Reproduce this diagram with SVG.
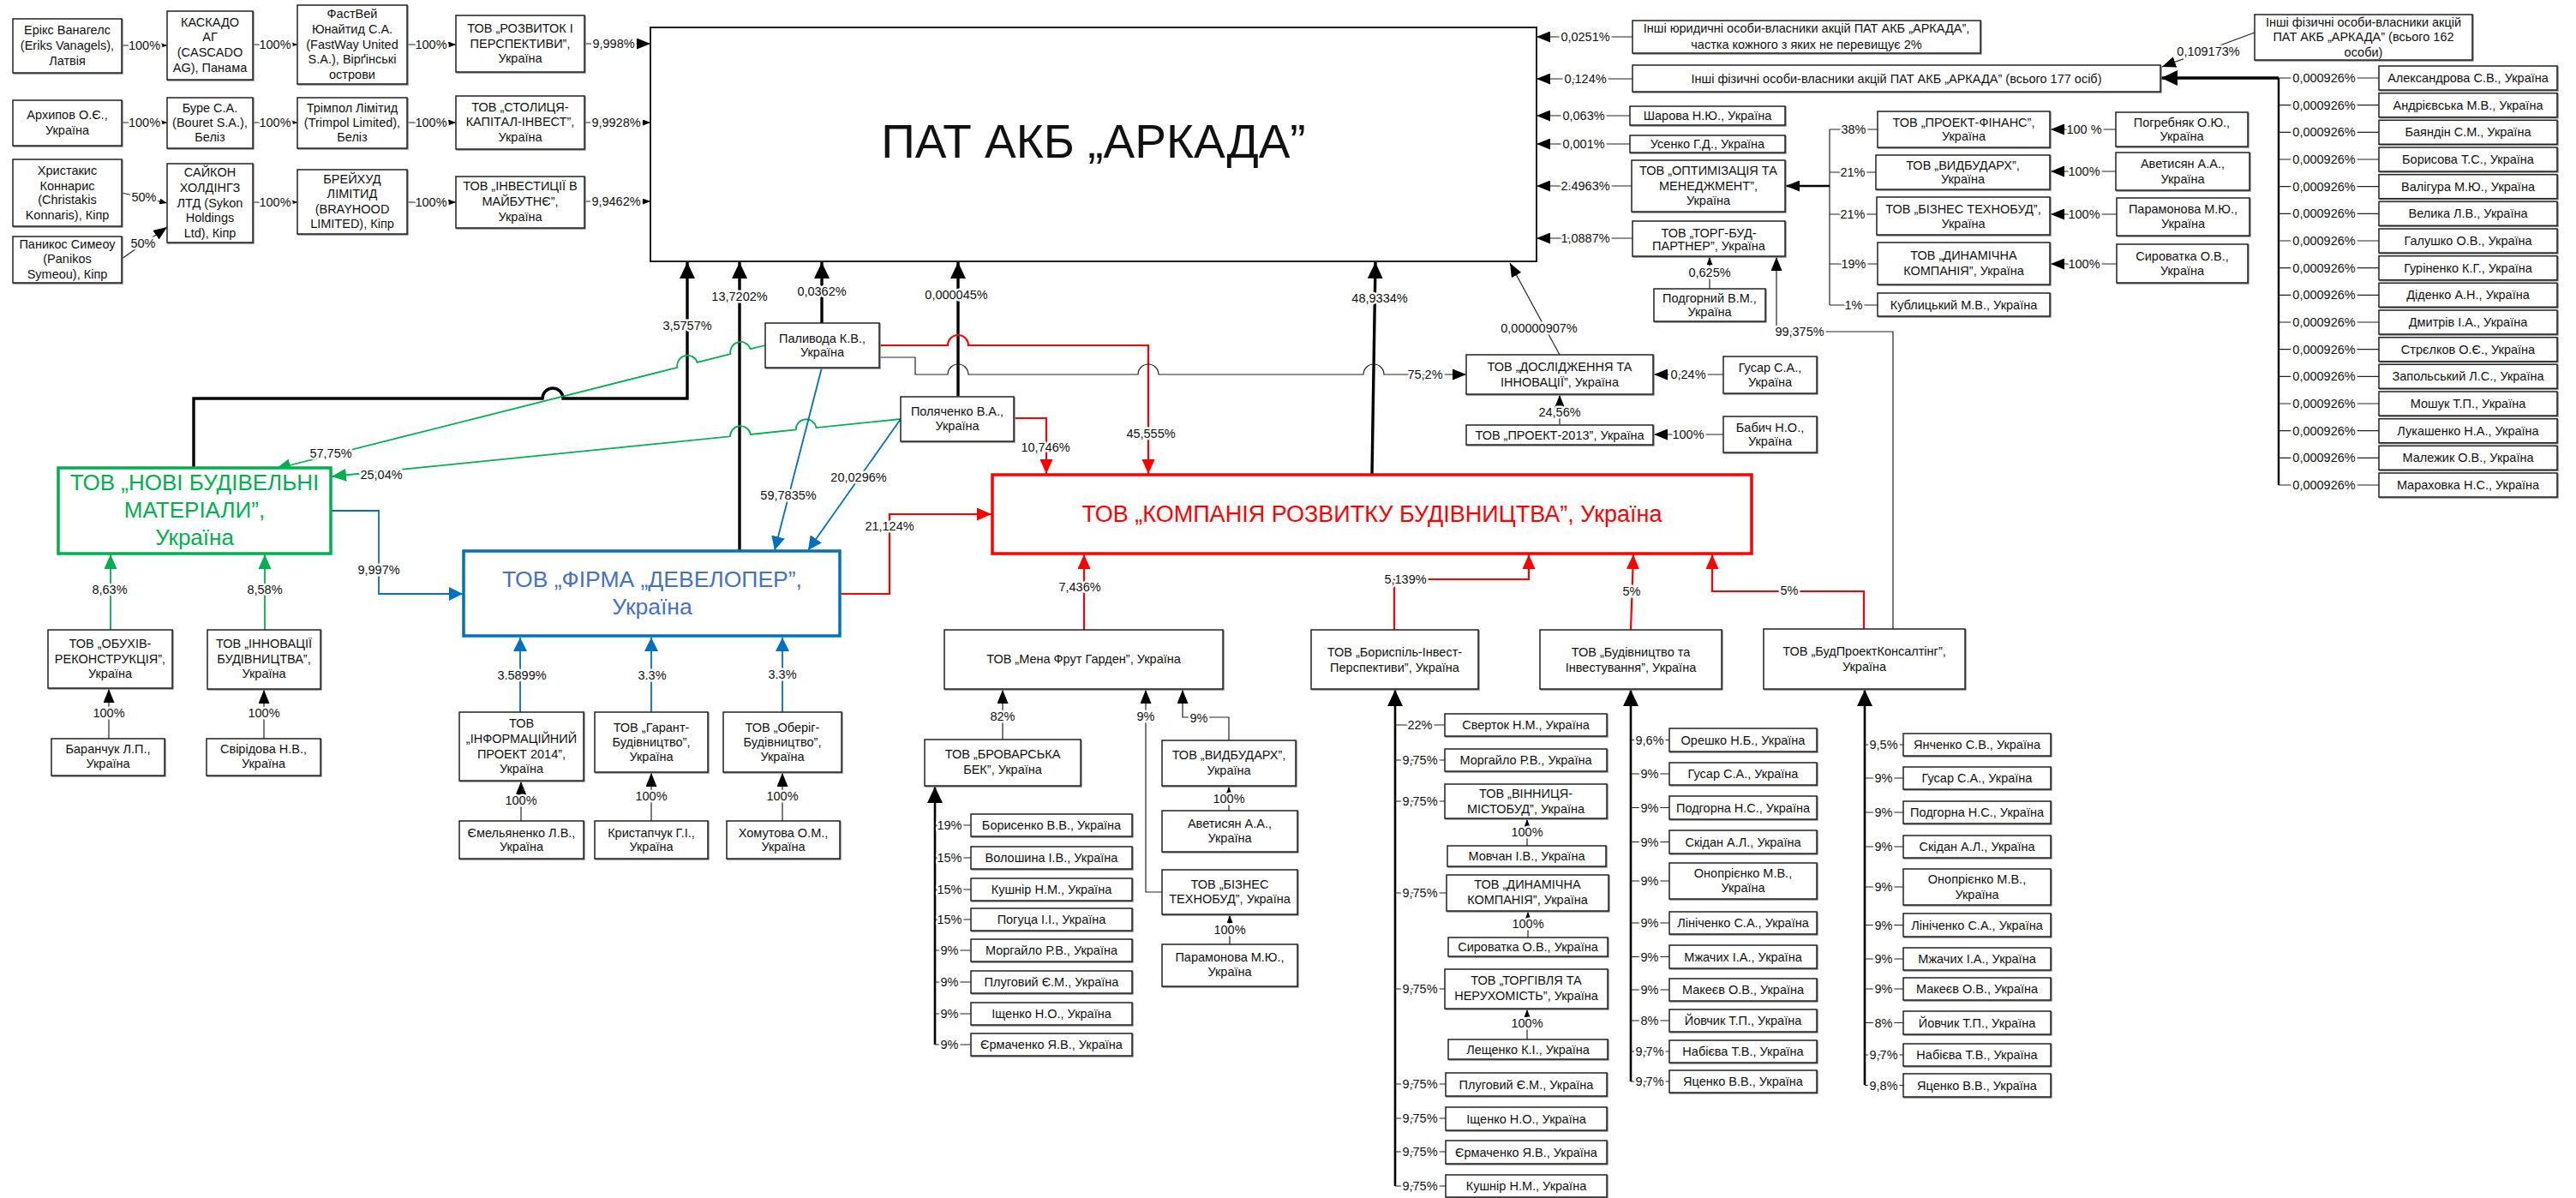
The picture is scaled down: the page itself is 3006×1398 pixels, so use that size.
<svg xmlns="http://www.w3.org/2000/svg" width="3006" height="1398" viewBox="0 0 3006 1398">
<style>
text{font-family:"Liberation Sans",Arial,sans-serif;font-size:14.5px;text-anchor:middle;dominant-baseline:central;fill:#111}
.b{fill:#fff;stroke:#222;stroke-width:1.5;filter:drop-shadow(1px 1.5px 0 #8a8a8a)}
.l{paint-order:stroke;stroke:#fff;stroke-width:5px;stroke-linejoin:round}
.c{fill:none;stroke:#222;stroke-width:1.2}
.k{fill:none;stroke:#000;stroke-width:3.4}
.g{fill:none;stroke:#00b050;stroke-width:1.8}
.u{fill:none;stroke:#0070c0;stroke-width:1.8}
.r{fill:none;stroke:#ff0000;stroke-width:2.2}
.big{font-size:26px}
</style>
<defs>
<marker id="ak" viewBox="0 0 10 10" refX="10" refY="5" markerWidth="19" markerHeight="18" markerUnits="userSpaceOnUse" orient="auto" preserveAspectRatio="none"><path d="M0,0L10,5L0,10z" fill="#000"/></marker>
<marker id="am" viewBox="0 0 10 10" refX="10" refY="5" markerWidth="16" markerHeight="13" markerUnits="userSpaceOnUse" orient="auto" preserveAspectRatio="none"><path d="M0,0L10,5L0,10z" fill="#000"/></marker>
<marker id="as" viewBox="0 0 10 10" refX="10" refY="5" markerWidth="9" markerHeight="7" markerUnits="userSpaceOnUse" orient="auto" preserveAspectRatio="none"><path d="M0,0L10,5L0,10z" fill="#000"/></marker>
<marker id="ag" viewBox="0 0 10 10" refX="10" refY="5" markerWidth="17" markerHeight="15" markerUnits="userSpaceOnUse" orient="auto" preserveAspectRatio="none"><path d="M0,0L10,5L0,10z" fill="#00b050"/></marker>
<marker id="ab" viewBox="0 0 10 10" refX="10" refY="5" markerWidth="16" markerHeight="16" markerUnits="userSpaceOnUse" orient="auto" preserveAspectRatio="none"><path d="M0,0L10,5L0,10z" fill="#0070c0"/></marker>
<marker id="ar" viewBox="0 0 10 10" refX="10" refY="5" markerWidth="17" markerHeight="15" markerUnits="userSpaceOnUse" orient="auto" preserveAspectRatio="none"><path d="M0,0L10,5L0,10z" fill="#ff0000"/></marker>
</defs>
<rect width="3006" height="1398" fill="#fff"/>

<g id="connectors">
<path class="c" d="M142 53H195" marker-end="url(#as)"/>
<path class="c" d="M295 52H347" marker-end="url(#as)"/>
<path class="c" d="M475 52H532" marker-end="url(#as)"/>
<path class="c" d="M682 51H759" marker-end="url(#am)"/>
<path class="c" d="M142 143H195" marker-end="url(#as)"/>
<path class="c" d="M295 143H347" marker-end="url(#as)"/>
<path class="c" d="M475 143H532" marker-end="url(#as)"/>
<path class="c" d="M682 143H759" marker-end="url(#as)"/>
<path class="c" d="M142 225L195 237" marker-end="url(#as)"/>
<path class="c" d="M142 302L195 265" marker-end="url(#am)"/>
<path class="c" d="M295 236H347" marker-end="url(#as)"/>
<path class="c" d="M475 236H532" marker-end="url(#as)"/>
<path class="c" d="M682 235H759" marker-end="url(#as)"/>
<path class="c" d="M1905 43H1793" marker-end="url(#am)"/>
<path class="c" d="M1905 92H1793" marker-end="url(#am)"/>
<path class="c" d="M1902 135H1793" marker-end="url(#am)"/>
<path class="c" d="M1902 168H1793" marker-end="url(#am)"/>
<path class="c" d="M1904 217H1793" marker-end="url(#am)"/>
<path class="c" d="M1905 278H1793" marker-end="url(#am)"/>
<path class="c" d="M2631 38L2523 78" marker-end="url(#am)"/>
<path class="k" d="M2659 91H2522" marker-end="url(#ak)"/>
<path class="k" d="M2659 91V566" style="stroke-width:2.4"/>
<path class="c" d="M2659 91H2776M2659 122.7H2776M2659 154.3H2776M2659 186H2776M2659 217.7H2776M2659 249.3H2776M2659 281H2776M2659 312.7H2776M2659 344.3H2776M2659 376H2776M2659 407.7H2776M2659 439.3H2776M2659 471H2776M2659 502.7H2776M2659 534.3H2776M2659 566H2776"/>
<path class="c" d="M2135 151V356M2135 151H2191M2135 201H2189M2135 250H2190M2135 308H2191M2135 356H2191"/>
<path class="k" d="M2135 217H2084" style="stroke-width:2.4" marker-end="url(#am)"/>
<path class="c" d="M2469 151H2393" marker-end="url(#am)"/>
<path class="c" d="M2469 200H2393" marker-end="url(#am)"/>
<path class="c" d="M2470 250H2393" marker-end="url(#am)"/>
<path class="c" d="M2470 308H2393" marker-end="url(#am)"/>
<path class="c" d="M1995 337V300" marker-end="url(#as)"/>
<path class="c" d="M2209 734V387H2073V300" marker-end="url(#am)"/>
<path class="k" d="M226 546V465H633A12 12 0 0 1 657 465H802V306" marker-end="url(#ak)"/>
<path class="k" d="M863 643V306" marker-end="url(#ak)"/>
<path class="k" d="M959 377V306" marker-end="url(#ak)"/>
<path class="k" d="M1118 462V306" marker-end="url(#ak)"/>
<path class="k" d="M1601 554L1605 306" marker-end="url(#ak)"/>
<path class="c" d="M1820 414L1762 307" marker-end="url(#am)"/>
<path class="g" d="M893 403L875.6 407.2A12 12 0 0 0 852.4 413.1L813.6 422.9A12 12 0 0 0 790.4 428.8L322 547" marker-end="url(#ag)"/>
<path class="g" d="M1051 489L952.5 499.1A12 12 0 0 0 928.7 501.5L875.9 506.9A12 12 0 0 0 852.1 509.3L387 556" marker-end="url(#ag)"/>
<path class="u" d="M959 429L904 642" marker-end="url(#ab)"/>
<path class="u" d="M1051 489L943 642" marker-end="url(#ab)"/>
<path class="u" d="M386 596H442V693H540" marker-end="url(#ab)"/>
<path class="r" d="M1026 403H1106A12 12 0 0 1 1130 403H1340V553" marker-end="url(#ar)"/>
<path class="c" d="M1026 417H1068V437H1106A12 12 0 0 1 1130 437H1328A12 12 0 0 1 1352 437H1591A12 12 0 0 1 1615 437H1711" marker-end="url(#am)"/>
<path class="r" d="M1183 488H1221V553" marker-end="url(#ar)"/>
<path class="r" d="M981 693H1038V600H1157" marker-end="url(#ar)"/>
<path class="c" d="M2011 437H1930" marker-end="url(#am)"/>
<path class="c" d="M1820 495V461" marker-end="url(#am)"/>
<path class="c" d="M2011 507H1930" marker-end="url(#am)"/>
<path class="r" d="M1265 735V647" marker-end="url(#ar)"/>
<path class="r" d="M1627 735V676H1784V647" marker-end="url(#ar)"/>
<path class="r" d="M1903 735L1906 647" marker-end="url(#ar)"/>
<path class="r" d="M2175 734V690H1998V647" marker-end="url(#ar)"/>
<path class="g" d="M129 735V647" marker-end="url(#ag)"/>
<path class="g" d="M309 735V647" marker-end="url(#ag)"/>
<path class="c" d="M127 862V804" marker-end="url(#am)"/>
<path class="c" d="M308 862V805" marker-end="url(#am)"/>
<path class="u" d="M607 831V744" marker-end="url(#ab)"/>
<path class="u" d="M760 831V744" marker-end="url(#ab)"/>
<path class="u" d="M913 831V744" marker-end="url(#ab)"/>
<path class="c" d="M608 958V912" marker-end="url(#am)"/>
<path class="c" d="M760 958V902" marker-end="url(#am)"/>
<path class="c" d="M913 958V902" marker-end="url(#am)"/>
<path class="c" d="M1170 863V805" marker-end="url(#am)"/>
<path class="c" d="M1356 1041H1337V805" marker-end="url(#am)"/>
<path class="c" d="M1434 864V837H1380V805" marker-end="url(#am)"/>
<path class="c" d="M1434 946V918" marker-end="url(#as)"/>
<path class="c" d="M1435 1102V1068" marker-end="url(#as)"/>
<path class="k" d="M1091 1219V918" style="stroke-width:2.6" marker-end="url(#ak)"/>
<path class="c" d="M1091 963H1133M1091 1001H1133M1091 1038H1133M1091 1073H1133M1091 1109H1133M1091 1146H1133M1091 1183H1133M1091 1219H1133"/>
<path class="k" d="M1628 1384V805" style="stroke-width:2.6" marker-end="url(#ak)"/>
<path class="c" d="M1628 846H1686M1628 887H1686M1628 935H1686M1628 1042H1688M1628 1154H1686M1628 1265H1687M1628 1305H1687M1628 1344H1687M1628 1384H1687"/>
<path class="c" d="M1782 987V956" marker-end="url(#as)"/>
<path class="c" d="M1783 1094V1064" marker-end="url(#as)"/>
<path class="c" d="M1782 1213V1178" marker-end="url(#as)"/>
<path class="k" d="M1903 1262V805" style="stroke-width:2.6" marker-end="url(#ak)"/>
<path class="c" d="M1903 863.5H1948M1903 903H1948M1903 942.5H1948M1903 982.5H1948M1903 1028H1948M1903 1077H1948M1903 1116.5H1948M1903 1155H1948M1903 1191H1948M1903 1227H1948M1903 1262H1948"/>
<path class="k" d="M2176 1266V805" style="stroke-width:2.6" marker-end="url(#ak)"/>
<path class="c" d="M2176 869H2221M2176 908H2221M2176 948H2221M2176 988H2221M2176 1035H2221M2176 1079.5H2221M2176 1119H2221M2176 1154H2221M2176 1193.5H2221M2176 1231H2221M2176 1266.5H2221"/>

<g>
<text class="l" x="168.5" y="53">100%</text>
<text class="l" x="321" y="52">100%</text>
<text class="l" x="503" y="52">100%</text>
<text class="l" x="716" y="51">9,998%</text>
<text class="l" x="168.5" y="143">100%</text>
<text class="l" x="321" y="143">100%</text>
<text class="l" x="503" y="143">100%</text>
<text class="l" x="719" y="143">9,9928%</text>
<text class="l" x="168" y="230">50%</text>
<text class="l" x="167" y="284">50%</text>
<text class="l" x="321" y="236">100%</text>
<text class="l" x="503" y="236">100%</text>
<text class="l" x="719" y="235">9,9462%</text>
<text class="l" x="1850" y="43">0,0251%</text>
<text class="l" x="1850" y="92">0,124%</text>
<text class="l" x="1848" y="135">0,063%</text>
<text class="l" x="1848" y="168">0,001%</text>
<text class="l" x="1850" y="217">2.4963%</text>
<text class="l" x="1850" y="278">1,0887%</text>
<text class="l" x="2577" y="60">0,109173%</text>
<text class="l" x="2163" y="151">38%</text>
<text class="l" x="2162" y="201">21%</text>
<text class="l" x="2162" y="250">21%</text>
<text class="l" x="2163" y="308">19%</text>
<text class="l" x="2163" y="356">1%</text>
<text class="l" x="2432" y="151">100 %</text>
<text class="l" x="2432" y="200">100%</text>
<text class="l" x="2432" y="250">100%</text>
<text class="l" x="2432" y="308">100%</text>
<text class="l" x="1995" y="318">0,625%</text>
<text class="l" x="2100" y="387">99,375%</text>
<text class="l" x="802" y="380">3,5757%</text>
<text class="l" x="863" y="346">13,7202%</text>
<text class="l" x="959" y="340">0,0362%</text>
<text class="l" x="1116" y="344">0,000045%</text>
<text class="l" x="1610" y="348">48,9334%</text>
<text class="l" x="1796" y="383">0,00000907%</text>
<text class="l" x="386" y="529">57,75%</text>
<text class="l" x="445" y="554">25,04%</text>
<text class="l" x="920" y="578">59,7835%</text>
<text class="l" x="1002" y="557">20,0296%</text>
<text class="l" x="442" y="665">9,997%</text>
<text class="l" x="1343" y="506">45,555%</text>
<text class="l" x="1663" y="437">75,2%</text>
<text class="l" x="1220" y="522">10,746%</text>
<text class="l" x="1038" y="614">21,124%</text>
<text class="l" x="1970" y="437">0,24%</text>
<text class="l" x="1820" y="481">24,56%</text>
<text class="l" x="1970" y="507">100%</text>
<text class="l" x="1260" y="685">7,436%</text>
<text class="l" x="1640" y="676">5,139%</text>
<text class="l" x="1904" y="690">5%</text>
<text class="l" x="2088" y="689">5%</text>
<text class="l" x="128" y="688">8,63%</text>
<text class="l" x="309" y="688">8,58%</text>
<text class="l" x="127" y="832">100%</text>
<text class="l" x="308" y="832">100%</text>
<text class="l" x="609" y="788">3.5899%</text>
<text class="l" x="761" y="788">3.3%</text>
<text class="l" x="913" y="787">3.3%</text>
<text class="l" x="608" y="934">100%</text>
<text class="l" x="760" y="929">100%</text>
<text class="l" x="913" y="929">100%</text>
<text class="l" x="1170" y="836">82%</text>
<text class="l" x="1337" y="836">9%</text>
<text class="l" x="1399" y="838">9%</text>
<text class="l" x="1434" y="932">100%</text>
<text class="l" x="1435" y="1085">100%</text>
<text class="l" x="1108" y="963">19%</text>
<text class="l" x="1108" y="1001">15%</text>
<text class="l" x="1108" y="1038">15%</text>
<text class="l" x="1108" y="1073">15%</text>
<text class="l" x="1108" y="1109">9%</text>
<text class="l" x="1108" y="1146">9%</text>
<text class="l" x="1108" y="1183">9%</text>
<text class="l" x="1108" y="1219">9%</text>
<text class="l" x="1657" y="846">22%</text>
<text class="l" x="1657" y="887">9,75%</text>
<text class="l" x="1657" y="935">9,75%</text>
<text class="l" x="1657" y="1042">9,75%</text>
<text class="l" x="1657" y="1154">9,75%</text>
<text class="l" x="1657" y="1265">9,75%</text>
<text class="l" x="1657" y="1305">9,75%</text>
<text class="l" x="1657" y="1344">9,75%</text>
<text class="l" x="1657" y="1384">9,75%</text>
<text class="l" x="1782" y="971">100%</text>
<text class="l" x="1783" y="1078">100%</text>
<text class="l" x="1782" y="1194">100%</text>
<text class="l" x="1925" y="863.5">9,6%</text>
<text class="l" x="1925" y="903">9%</text>
<text class="l" x="1925" y="942.5">9%</text>
<text class="l" x="1925" y="982.5">9%</text>
<text class="l" x="1925" y="1028">9%</text>
<text class="l" x="1925" y="1077">9%</text>
<text class="l" x="1925" y="1116.5">9%</text>
<text class="l" x="1925" y="1155">9%</text>
<text class="l" x="1925" y="1191">8%</text>
<text class="l" x="1925" y="1227">9,7%</text>
<text class="l" x="1925" y="1262">9,7%</text>
<text class="l" x="2198" y="869">9,5%</text>
<text class="l" x="2198" y="908">9%</text>
<text class="l" x="2198" y="948">9%</text>
<text class="l" x="2198" y="988">9%</text>
<text class="l" x="2198" y="1035">9%</text>
<text class="l" x="2198" y="1079.5">9%</text>
<text class="l" x="2198" y="1119">9%</text>
<text class="l" x="2198" y="1154">9%</text>
<text class="l" x="2198" y="1193.5">8%</text>
<text class="l" x="2198" y="1231">9,7%</text>
<text class="l" x="2198" y="1266.5">9,8%</text>
<text class="l" x="2712" y="91">0,000926%</text>
<text class="l" x="2712" y="122.7">0,000926%</text>
<text class="l" x="2712" y="154.3">0,000926%</text>
<text class="l" x="2712" y="186">0,000926%</text>
<text class="l" x="2712" y="217.7">0,000926%</text>
<text class="l" x="2712" y="249.3">0,000926%</text>
<text class="l" x="2712" y="281">0,000926%</text>
<text class="l" x="2712" y="312.7">0,000926%</text>
<text class="l" x="2712" y="344.3">0,000926%</text>
<text class="l" x="2712" y="376">0,000926%</text>
<text class="l" x="2712" y="407.7">0,000926%</text>
<text class="l" x="2712" y="439.3">0,000926%</text>
<text class="l" x="2712" y="471">0,000926%</text>
<text class="l" x="2712" y="502.7">0,000926%</text>
<text class="l" x="2712" y="534.3">0,000926%</text>
<text class="l" x="2712" y="566">0,000926%</text>
</g>
</g>

<g id="n-arkada"><rect x="759" y="32" width="1034" height="273" fill="#fff" stroke="#222" stroke-width="2"/><text x="1276" y="165" style="font-size:55px">ПАТ АКБ „АРКАДА”</text></g>

<g id="n-erik"><rect class="b" x="15" y="22" width="127" height="63"/><text><tspan x="78.5" y="35">Ерікс Ванагелс</tspan><tspan x="78.5" y="53">(Eriks Vanagels),</tspan><tspan x="78.5" y="71">Латвія</tspan></text></g>
<g id="n-cascado"><rect class="b" x="195" y="13" width="100" height="80"/><text><tspan x="245" y="26">КАСКАДО</tspan><tspan x="245" y="43">АГ</tspan><tspan x="245" y="61">(CASCADO</tspan><tspan x="245" y="79">AG), Панама</tspan></text></g>
<g id="n-fastway"><rect class="b" x="347" y="6" width="128" height="92"/><text><tspan x="411" y="16">ФастВей</tspan><tspan x="411" y="34">Юнайтид С.А.</tspan><tspan x="411" y="52">(FastWay United</tspan><tspan x="411" y="69">S.A.), Вірґінські</tspan><tspan x="411" y="87">острови</tspan></text></g>
<g id="n-rozvytok"><rect class="b" x="532" y="18" width="150" height="66"/><text><tspan x="607" y="33">ТОВ „РОЗВИТОК І</tspan><tspan x="607" y="51">ПЕРСПЕКТИВИ”,</tspan><tspan x="607" y="68">Україна</tspan></text></g>
<g id="n-arkhypov"><rect class="b" x="15" y="117" width="127" height="53"/><text><tspan x="78.5" y="134">Архипов О.Є.,</tspan><tspan x="78.5" y="152">Україна</tspan></text></g>
<g id="n-bouret"><rect class="b" x="195" y="114" width="100" height="59"/><text><tspan x="245" y="126">Буре С.А.</tspan><tspan x="245" y="143">(Bouret S.A.),</tspan><tspan x="245" y="160">Беліз</tspan></text></g>
<g id="n-trimpol"><rect class="b" x="347" y="114" width="128" height="59"/><text><tspan x="411" y="126">Трімпол Лімітид</tspan><tspan x="411" y="143">(Trimpol Limited),</tspan><tspan x="411" y="160">Беліз</tspan></text></g>
<g id="n-stolytsia"><rect class="b" x="532" y="112" width="150" height="62"/><text><tspan x="607" y="125">ТОВ „СТОЛИЦЯ-</tspan><tspan x="607" y="142">КАПІТАЛ-ІНВЕСТ”,</tspan><tspan x="607" y="160">Україна</tspan></text></g>
<g id="n-konnaris"><rect class="b" x="15" y="186" width="127" height="78"/><text><tspan x="78.5" y="199">Христакис</tspan><tspan x="78.5" y="217">Коннарис</tspan><tspan x="78.5" y="233">(Christakis</tspan><tspan x="78.5" y="251">Konnaris), Кіпр</tspan></text></g>
<g id="n-symeou"><rect class="b" x="15" y="276" width="127" height="54"/><text><tspan x="78.5" y="285">Паникос Симеоу</tspan><tspan x="78.5" y="302">(Panikos</tspan><tspan x="78.5" y="320">Symeou), Кіпр</tspan></text></g>
<g id="n-sykon"><rect class="b" x="195" y="191" width="100" height="92"/><text><tspan x="245" y="201">САЙКОН</tspan><tspan x="245" y="219">ХОЛДІНГЗ</tspan><tspan x="245" y="237">ЛТД (Sykon</tspan><tspan x="245" y="254">Holdings</tspan><tspan x="245" y="272">Ltd), Кіпр</tspan></text></g>
<g id="n-brayhood"><rect class="b" x="347" y="198" width="128" height="75"/><text><tspan x="411" y="209">БРЕЙХУД</tspan><tspan x="411" y="226">ЛІМІТИД</tspan><tspan x="411" y="244">(BRAYHOOD</tspan><tspan x="411" y="261">LIMITED), Кіпр</tspan></text></g>
<g id="n-investytsii"><rect class="b" x="532" y="206" width="150" height="60"/><text><tspan x="607" y="217">ТОВ „ІНВЕСТИЦІЇ В</tspan><tspan x="607" y="235">МАЙБУТНЄ”,</tspan><tspan x="607" y="253">Україна</tspan></text></g>

<g id="n-inshi-yur"><rect class="b" x="1905" y="24" width="406" height="38"/><text><tspan x="2108" y="33">Інші юридичні особи-власники акцій ПАТ АКБ „АРКАДА”,</tspan><tspan x="2108" y="52">частка кожного з яких не перевищує 2%</tspan></text></g>
<g id="n-inshi-177"><rect class="b" x="1905" y="76" width="616" height="31"/><text x="2213" y="92">Інші фізичні особи-власники акцій ПАТ АКБ „АРКАДА” (всього 177 осіб)</text></g>
<g id="n-inshi-162"><rect class="b" x="2631" y="17" width="254" height="53"/><text><tspan x="2758" y="26">Інші фізичні особи-власники акцій</tspan><tspan x="2758" y="43">ПАТ АКБ „АРКАДА” (всього 162</tspan><tspan x="2758" y="61">особи)</tspan></text></g>
<g id="n-sharova"><rect class="b" x="1902" y="124" width="181" height="22"/><text x="1992.5" y="135">Шарова Н.Ю., Україна</text></g>
<g id="n-usenko"><rect class="b" x="1902" y="158" width="181" height="20"/><text x="1992.5" y="168">Усенко Г.Д., Україна</text></g>
<g id="n-optym"><rect class="b" x="1904" y="187" width="179" height="60"/><text><tspan x="1993.5" y="199">ТОВ „ОПТИМІЗАЦІЯ ТА</tspan><tspan x="1993.5" y="217">МЕНЕДЖМЕНТ”,</tspan><tspan x="1993.5" y="234">Україна</tspan></text></g>
<g id="n-torgbud"><rect class="b" x="1905" y="258" width="178" height="41"/><text><tspan x="1994" y="272">ТОВ „ТОРГ-БУД-</tspan><tspan x="1994" y="287">ПАРТНЕР”, Україна</tspan></text></g>
<g id="n-podgornyi"><rect class="b" x="1930" y="337" width="130" height="38"/><text><tspan x="1995" y="348">Подгорний В.М.,</tspan><tspan x="1995" y="364">Україна</tspan></text></g>
<g id="n-proektfin"><rect class="b" x="2191" y="130" width="201" height="42"/><text><tspan x="2291.5" y="143">ТОВ „ПРОЕКТ-ФІНАНС”,</tspan><tspan x="2291.5" y="159">Україна</tspan></text></g>
<g id="n-vydbudarkh1"><rect class="b" x="2189" y="181" width="203" height="40"/><text><tspan x="2290.5" y="193">ТОВ „ВИДБУДАРХ”,</tspan><tspan x="2290.5" y="209">Україна</tspan></text></g>
<g id="n-biznes1"><rect class="b" x="2190" y="230" width="202" height="44"/><text><tspan x="2291" y="244">ТОВ „БІЗНЕС ТЕХНОБУД”,</tspan><tspan x="2291" y="261">Україна</tspan></text></g>
<g id="n-dynam1"><rect class="b" x="2191" y="283" width="201" height="49"/><text><tspan x="2291.5" y="298">ТОВ „ДИНАМІЧНА</tspan><tspan x="2291.5" y="316">КОМПАНІЯ”, Україна</tspan></text></g>
<g id="n-kublytskyi"><rect class="b" x="2191" y="342" width="201" height="27"/><text x="2291.5" y="355.5">Кублицький М.В., Україна</text></g>
<g id="n-pohrebniak"><rect class="b" x="2469" y="131" width="154" height="40"/><text><tspan x="2546" y="143">Погребняк О.Ю.,</tspan><tspan x="2546" y="159">Україна</tspan></text></g>
<g id="n-avetysian1"><rect class="b" x="2469" y="178" width="156" height="44"/><text><tspan x="2547" y="191">Аветисян А.А.,</tspan><tspan x="2547" y="209">Україна</tspan></text></g>
<g id="n-paramonova1"><rect class="b" x="2470" y="231" width="155" height="44"/><text><tspan x="2547.5" y="244">Парамонова М.Ю.,</tspan><tspan x="2547.5" y="261">Україна</tspan></text></g>
<g id="n-syrovatka1"><rect class="b" x="2470" y="285" width="153" height="45"/><text><tspan x="2546.5" y="299">Сироватка О.В.,</tspan><tspan x="2546.5" y="316">Україна</tspan></text></g>

<g id="n-p01"><rect class="b" x="2776" y="77" width="208" height="28"/><text x="2880" y="91">Александрова С.В., Україна</text></g>
<g id="n-p02"><rect class="b" x="2776" y="108.7" width="208" height="28"/><text x="2880" y="122.7">Андрієвська М.В., Україна</text></g>
<g id="n-p03"><rect class="b" x="2776" y="140.3" width="208" height="28"/><text x="2880" y="154.3">Баяндін С.М., Україна</text></g>
<g id="n-p04"><rect class="b" x="2776" y="172" width="208" height="28"/><text x="2880" y="186">Борисова Т.С., Україна</text></g>
<g id="n-p05"><rect class="b" x="2776" y="203.7" width="208" height="28"/><text x="2880" y="217.7">Валігура М.Ю., Україна</text></g>
<g id="n-p06"><rect class="b" x="2776" y="235.3" width="208" height="28"/><text x="2880" y="249.3">Велика Л.В., Україна</text></g>
<g id="n-p07"><rect class="b" x="2776" y="267" width="208" height="28"/><text x="2880" y="281">Галушко О.В., Україна</text></g>
<g id="n-p08"><rect class="b" x="2776" y="298.7" width="208" height="28"/><text x="2880" y="312.7">Гуріненко К.Г., Україна</text></g>
<g id="n-p09"><rect class="b" x="2776" y="330.3" width="208" height="28"/><text x="2880" y="344.3">Діденко А.Н., Україна</text></g>
<g id="n-p10"><rect class="b" x="2776" y="362" width="208" height="28"/><text x="2880" y="376">Дмитрів І.А., Україна</text></g>
<g id="n-p11"><rect class="b" x="2776" y="393.7" width="208" height="28"/><text x="2880" y="407.7">Стрєлков О.Є., Україна</text></g>
<g id="n-p12"><rect class="b" x="2776" y="425.3" width="208" height="28"/><text x="2880" y="439.3">Запольський Л.С., Україна</text></g>
<g id="n-p13"><rect class="b" x="2776" y="457" width="208" height="28"/><text x="2880" y="471">Мошук Т.П., Україна</text></g>
<g id="n-p14"><rect class="b" x="2776" y="488.7" width="208" height="28"/><text x="2880" y="502.7">Лукашенко Н.А., Україна</text></g>
<g id="n-p15"><rect class="b" x="2776" y="520.3" width="208" height="28"/><text x="2880" y="534.3">Малежик О.В., Україна</text></g>
<g id="n-p16"><rect class="b" x="2776" y="552" width="208" height="28"/><text x="2880" y="566">Мараховка Н.С., Україна</text></g>

<g id="n-doslidzh"><rect class="b" x="1711" y="414" width="218" height="46"/><text><tspan x="1820" y="428">ТОВ „ДОСЛІДЖЕННЯ ТА</tspan><tspan x="1820" y="446">ІННОВАЦІЇ”, Україна</tspan></text></g>
<g id="n-husar1"><rect class="b" x="2011" y="416" width="109" height="43"/><text><tspan x="2065.5" y="429">Гусар С.А.,</tspan><tspan x="2065.5" y="446">Україна</tspan></text></g>
<g id="n-proekt2013"><rect class="b" x="1711" y="496" width="218" height="23"/><text x="1820" y="507.5">ТОВ „ПРОЕКТ-2013”, Україна</text></g>
<g id="n-babych"><rect class="b" x="2011" y="486" width="109" height="42"/><text><tspan x="2065.5" y="499">Бабич Н.О.,</tspan><tspan x="2065.5" y="515">Україна</tspan></text></g>
<g id="n-palyvoda"><rect class="b" x="893" y="377" width="133" height="52"/><text><tspan x="959.5" y="395">Паливода К.В.,</tspan><tspan x="959.5" y="411">Україна</tspan></text></g>
<g id="n-poliachenko"><rect class="b" x="1051" y="463" width="132" height="52"/><text><tspan x="1117" y="480">Поляченко В.А.,</tspan><tspan x="1117" y="497">Україна</tspan></text></g>
<g id="n-novi"><rect x="68" y="546" width="318" height="100" fill="#fff" stroke="#00b050" stroke-width="3.5"/><text class="big" style="fill:#00b050"><tspan x="227" y="563">ТОВ „НОВІ БУДІВЕЛЬНІ</tspan><tspan x="227" y="595">МАТЕРІАЛИ”,</tspan><tspan x="227" y="627">Україна</tspan></text></g>
<g id="n-developer"><rect x="541" y="643" width="439" height="99" fill="#fff" stroke="#0070c0" stroke-width="3.5"/><text class="big" style="fill:#4472c4;font-size:26.5px"><tspan x="761" y="676">ТОВ „ФІРМА „ДЕВЕЛОПЕР”,</tspan><tspan x="761" y="708">Україна</tspan></text></g>
<g id="n-krb"><rect x="1158" y="554" width="886" height="92" fill="#fff" stroke="#ff0000" stroke-width="3.5"/><text style="font-size:27px;fill:#ff0000" x="1601" y="600">ТОВ „КОМПАНІЯ РОЗВИТКУ БУДІВНИЦТВА”, Україна</text></g>
<g id="n-obukhiv"><rect class="b" x="56" y="735" width="145" height="68"/><text><tspan x="128.5" y="751">ТОВ „ОБУХІВ-</tspan><tspan x="128.5" y="769">РЕКОНСТРУКЦІЯ”,</tspan><tspan x="128.5" y="786">Україна</tspan></text></g>
<g id="n-innovatsii"><rect class="b" x="242" y="735" width="132" height="69"/><text><tspan x="308" y="751">ТОВ „ІННОВАЦІЇ</tspan><tspan x="308" y="769">БУДІВНИЦТВА”,</tspan><tspan x="308" y="786">Україна</tspan></text></g>
<g id="n-baranchuk"><rect class="b" x="60" y="862" width="132" height="43"/><text><tspan x="126" y="874">Баранчук Л.П.,</tspan><tspan x="126" y="891">Україна</tspan></text></g>
<g id="n-sviridova"><rect class="b" x="241" y="862" width="133" height="43"/><text><tspan x="307.5" y="874">Свірідова Н.В.,</tspan><tspan x="307.5" y="891">Україна</tspan></text></g>
<g id="n-inform"><rect class="b" x="536" y="831" width="145" height="80"/><text><tspan x="608.5" y="844">ТОВ</tspan><tspan x="608.5" y="862">„ІНФОРМАЦІЙНИЙ</tspan><tspan x="608.5" y="880">ПРОЕКТ 2014”,</tspan><tspan x="608.5" y="897">Україна</tspan></text></g>
<g id="n-garant"><rect class="b" x="694" y="831" width="132" height="70"/><text><tspan x="760" y="849">ТОВ „Гарант-</tspan><tspan x="760" y="866">Будівництво”,</tspan><tspan x="760" y="883">Україна</tspan></text></g>
<g id="n-oberig"><rect class="b" x="844" y="831" width="138" height="70"/><text><tspan x="913" y="849">ТОВ „Оберіг-</tspan><tspan x="913" y="866">Будівництво”,</tspan><tspan x="913" y="883">Україна</tspan></text></g>
<g id="n-yemelianenko"><rect class="b" x="536" y="958" width="145" height="44"/><text><tspan x="608.5" y="972">Ємельяненко Л.В.,</tspan><tspan x="608.5" y="988">Україна</tspan></text></g>
<g id="n-krystapchuk"><rect class="b" x="694" y="958" width="132" height="44"/><text><tspan x="760" y="972">Кристапчук Г.І.,</tspan><tspan x="760" y="988">Україна</tspan></text></g>
<g id="n-khomutova"><rect class="b" x="848" y="958" width="132" height="44"/><text><tspan x="914" y="972">Хомутова О.М.,</tspan><tspan x="914" y="988">Україна</tspan></text></g>

<g id="n-mena"><rect class="b" x="1102" y="735" width="325" height="69"/><text x="1264.5" y="769">ТОВ „Мена Фрут Гарден”, Україна</text></g>
<g id="n-brovarska"><rect class="b" x="1079" y="863" width="182" height="54"/><text><tspan x="1170" y="880">ТОВ „БРОВАРСЬКА</tspan><tspan x="1170" y="898">БЕК”, Україна</tspan></text></g>
<g id="n-vydbudarkh2"><rect class="b" x="1356" y="864" width="156" height="53"/><text><tspan x="1434" y="881">ТОВ „ВИДБУДАРХ”,</tspan><tspan x="1434" y="898.5">Україна</tspan></text></g>
<g id="n-avetysian2"><rect class="b" x="1356" y="946" width="158" height="48"/><text><tspan x="1435" y="961">Аветисян А.А.,</tspan><tspan x="1435" y="978">Україна</tspan></text></g>
<g id="n-biznes2"><rect class="b" x="1356" y="1015" width="158" height="52"/><text><tspan x="1435" y="1032">ТОВ „БІЗНЕС</tspan><tspan x="1435" y="1049">ТЕХНОБУД”, Україна</tspan></text></g>
<g id="n-paramonova2"><rect class="b" x="1356" y="1102" width="158" height="49"/><text><tspan x="1435" y="1117">Парамонова М.Ю.,</tspan><tspan x="1435" y="1134">Україна</tspan></text></g>
<g id="n-b1"><rect class="b" x="1133" y="950" width="188" height="26"/><text x="1227" y="963">Борисенко В.В., Україна</text></g>
<g id="n-b2"><rect class="b" x="1133" y="988" width="188" height="26"/><text x="1227" y="1001">Волошина І.В., Україна</text></g>
<g id="n-b3"><rect class="b" x="1133" y="1025" width="188" height="26"/><text x="1227" y="1038">Кушнір Н.М., Україна</text></g>
<g id="n-b4"><rect class="b" x="1133" y="1060" width="188" height="26"/><text x="1227" y="1073">Погуца І.І., Україна</text></g>
<g id="n-b5"><rect class="b" x="1133" y="1096" width="188" height="26"/><text x="1227" y="1109">Моргайло Р.В., Україна</text></g>
<g id="n-b6"><rect class="b" x="1133" y="1133" width="188" height="26"/><text x="1227" y="1146">Плуговий Є.М., Україна</text></g>
<g id="n-b7"><rect class="b" x="1133" y="1170" width="188" height="26"/><text x="1227" y="1183">Іщенко Н.О., Україна</text></g>
<g id="n-b8"><rect class="b" x="1133" y="1206" width="188" height="26"/><text x="1227" y="1219">Єрмаченко Я.В., Україна</text></g>

<g id="n-boryspil"><rect class="b" x="1530" y="735" width="195" height="69"/><text><tspan x="1627.5" y="761">ТОВ „Бориспіль-Інвест-</tspan><tspan x="1627.5" y="779">Перспективи”, Україна</tspan></text></g>
<g id="n-budinv"><rect class="b" x="1797" y="735" width="212" height="69"/><text><tspan x="1903" y="761">ТОВ „Будівництво та</tspan><tspan x="1903" y="779">Інвестування”, Україна</tspan></text></g>
<g id="n-budproekt"><rect class="b" x="2058" y="734" width="235" height="70"/><text><tspan x="2175.5" y="760">ТОВ „БудПроектКонсалтінг”,</tspan><tspan x="2175.5" y="778">Україна</tspan></text></g>

<g id="n-c1"><rect class="b" x="1686" y="833" width="189" height="26"/><text x="1780.5" y="846">Сверток Н.М., Україна</text></g>
<g id="n-c2"><rect class="b" x="1686" y="874" width="189" height="26"/><text x="1780.5" y="887">Моргайло Р.В., Україна</text></g>
<g id="n-c3"><rect class="b" x="1686" y="915" width="189" height="40"/><text><tspan x="1780.5" y="926">ТОВ „ВІННИЦЯ-</tspan><tspan x="1780.5" y="943.5">МІСТОБУД”, Україна</tspan></text></g>
<g id="n-c4"><rect class="b" x="1689" y="987" width="185" height="24"/><text x="1781.5" y="999">Мовчан І.В., Україна</text></g>
<g id="n-c5"><rect class="b" x="1688" y="1021" width="189" height="42"/><text><tspan x="1782.5" y="1032">ТОВ „ДИНАМІЧНА</tspan><tspan x="1782.5" y="1050">КОМПАНІЯ”, Україна</tspan></text></g>
<g id="n-c6"><rect class="b" x="1690" y="1094" width="186" height="22"/><text x="1783" y="1105">Сироватка О.В., Україна</text></g>
<g id="n-c7"><rect class="b" x="1686" y="1131" width="190" height="46"/><text><tspan x="1781" y="1144">ТОВ „ТОРГІВЛЯ ТА</tspan><tspan x="1781" y="1162">НЕРУХОМІСТЬ”, Україна</tspan></text></g>
<g id="n-c8"><rect class="b" x="1690" y="1213" width="186" height="23"/><text x="1783" y="1224.5">Лещенко К.І., Україна</text></g>
<g id="n-c9"><rect class="b" x="1687" y="1252" width="188" height="27"/><text x="1781" y="1265.5">Плуговий Є.М., Україна</text></g>
<g id="n-c10"><rect class="b" x="1687" y="1292" width="188" height="27"/><text x="1781" y="1305.5">Іщенко Н.О., Україна</text></g>
<g id="n-c11"><rect class="b" x="1687" y="1331" width="188" height="27"/><text x="1781" y="1344.5">Єрмаченко Я.В., Україна</text></g>
<g id="n-c12"><rect class="b" x="1687" y="1371" width="188" height="26"/><text x="1781" y="1384">Кушнір Н.М., Україна</text></g>

<g id="n-d1"><rect class="b" x="1948" y="850" width="172" height="27"/><text x="2034" y="863.5">Орешко Н.Б., Україна</text></g>
<g id="n-d2"><rect class="b" x="1948" y="890" width="172" height="26"/><text x="2034" y="903">Гусар С.А., Україна</text></g>
<g id="n-d3"><rect class="b" x="1948" y="929" width="172" height="27"/><text x="2034" y="942.5">Подгорна Н.С., Україна</text></g>
<g id="n-d4"><rect class="b" x="1948" y="969" width="172" height="27"/><text x="2034" y="982.5">Скідан А.Л., Україна</text></g>
<g id="n-d5"><rect class="b" x="1948" y="1007" width="172" height="42"/><text><tspan x="2034" y="1019">Онопрієнко М.В.,</tspan><tspan x="2034" y="1036">Україна</tspan></text></g>
<g id="n-d6"><rect class="b" x="1948" y="1064" width="172" height="26"/><text x="2034" y="1077">Лініченко С.А., Україна</text></g>
<g id="n-d7"><rect class="b" x="1948" y="1103" width="172" height="27"/><text x="2034" y="1116.5">Мжачих І.А., Україна</text></g>
<g id="n-d8"><rect class="b" x="1948" y="1142" width="172" height="26"/><text x="2034" y="1155">Макеєв О.В., Україна</text></g>
<g id="n-d9"><rect class="b" x="1948" y="1178" width="172" height="26"/><text x="2034" y="1191">Йовчик Т.П., Україна</text></g>
<g id="n-d10"><rect class="b" x="1948" y="1214" width="172" height="26"/><text x="2034" y="1227">Набієва Т.В., Україна</text></g>
<g id="n-d11"><rect class="b" x="1948" y="1249" width="172" height="26"/><text x="2034" y="1262">Яценко В.В., Україна</text></g>

<g id="n-e1"><rect class="b" x="2221" y="856" width="172" height="26"/><text x="2307" y="869">Янченко С.В., Україна</text></g>
<g id="n-e2"><rect class="b" x="2221" y="895" width="172" height="26"/><text x="2307" y="908">Гусар С.А., Україна</text></g>
<g id="n-e3"><rect class="b" x="2221" y="935" width="172" height="26"/><text x="2307" y="948">Подгорна Н.С., Україна</text></g>
<g id="n-e4"><rect class="b" x="2221" y="975" width="172" height="26"/><text x="2307" y="988">Скідан А.Л., Україна</text></g>
<g id="n-e5"><rect class="b" x="2221" y="1014" width="172" height="42"/><text><tspan x="2307" y="1026">Онопрієнко М.В.,</tspan><tspan x="2307" y="1044">Україна</tspan></text></g>
<g id="n-e6"><rect class="b" x="2221" y="1066" width="172" height="27"/><text x="2307" y="1079.5">Лініченко С.А., Україна</text></g>
<g id="n-e7"><rect class="b" x="2221" y="1106" width="172" height="26"/><text x="2307" y="1119">Мжачих І.А., Україна</text></g>
<g id="n-e8"><rect class="b" x="2221" y="1141" width="172" height="26"/><text x="2307" y="1154">Макеєв О.В., Україна</text></g>
<g id="n-e9"><rect class="b" x="2221" y="1180" width="172" height="27"/><text x="2307" y="1193.5">Йовчик Т.П., Україна</text></g>
<g id="n-e10"><rect class="b" x="2221" y="1218" width="172" height="26"/><text x="2307" y="1231">Набієва Т.В., Україна</text></g>
<g id="n-e11"><rect class="b" x="2221" y="1253" width="172" height="27"/><text x="2307" y="1266.5">Яценко В.В., Україна</text></g>
</svg>
